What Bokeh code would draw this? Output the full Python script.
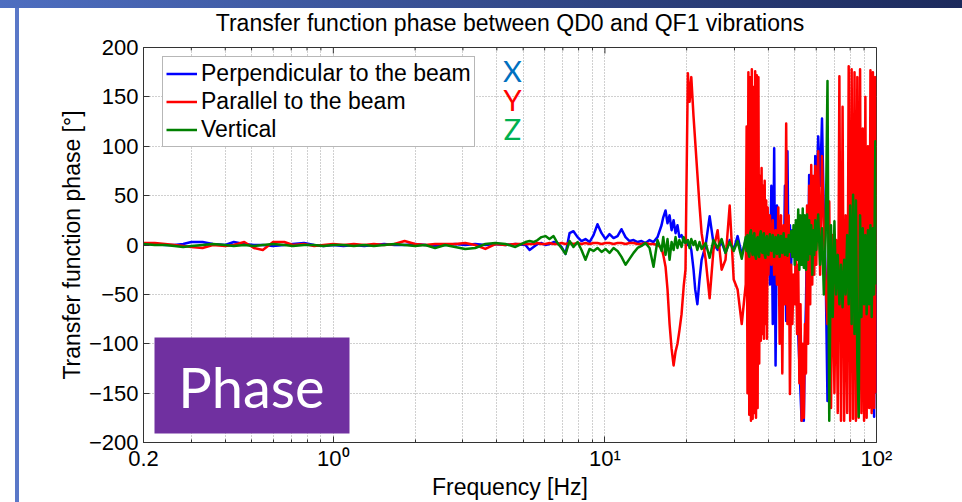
from bokeh.plotting import figure
from bokeh.models import Range1d, FixedTicker, Label, BoxAnnotation
from bokeh.embed import file_html
from bokeh.resources import INLINE
import math

# ---------------- data ----------------
freq = [
    0.2, 0.22, 0.24, 0.26, 0.28, 0.3, 0.33, 0.36, 0.4, 0.43,
    0.47, 0.51, 0.55, 0.6, 0.66, 0.71, 0.78, 0.85, 0.92, 1.0,
    1.09, 1.19, 1.3, 1.41, 1.54, 1.68, 1.83, 2.0, 2.18, 2.37,
    2.58, 2.81, 3.06, 3.33, 3.63, 3.95, 4.3, 4.68, 5.1,
    5.28, 5.46, 5.65, 5.84, 6.04, 6.25, 6.47, 6.69, 6.92, 7.16,
    7.41, 7.66, 7.93, 8.2, 8.48, 8.78, 9.08, 9.39, 9.72, 10.05,
    10.4, 10.76, 11.13, 11.51, 11.91, 12.32, 12.75, 13.19, 13.64, 14.11,
    14.6, 15.1, 15.62, 16.16, 16.4, 16.72, 17.0, 17.3, 17.6, 17.9,
    18.2, 18.5, 18.8, 19.15, 19.5, 19.8, 20.2, 20.5, 20.8, 21.2,
    21.5, 21.9, 22.3, 22.7, 23.5, 24.3, 25.1, 26.0, 26.9, 27.8,
    28.8, 29.8, 30.8, 31.9, 33.0,
    33.25, 33.5, 33.75, 34, 34.25, 34.5, 34.75, 35, 35.25, 35.5,
    35.75, 36, 36.25, 36.5, 36.75, 37, 37.25, 37.5, 37.75, 38,
    38.25, 38.5, 38.75, 39, 39.25, 39.5, 39.75, 40,
    40.5, 41, 41.5, 42, 42.5, 43,
    43.5, 44, 44.5, 45, 45.5, 46, 46.5, 47, 47.5, 48,
    48.5, 49, 49.5, 50, 50.5, 51, 51.5, 52, 52.5, 53,
    53.5, 54, 54.5, 55, 55.5, 56, 56.5, 57, 57.5, 58,
    58.5, 59, 59.5, 60,
    61, 62, 63, 64, 65, 66, 67, 68, 69, 70,
    71, 72, 73, 74, 75, 76, 77, 78, 79, 80,
    81, 82, 83, 84, 85, 86, 87, 88, 89, 90,
    91, 92, 93, 94, 95, 96, 97, 98, 99, 100,
]

perpendicular = [
    1, 1, 0, 0, 1, 3, 3, 1, 0, 3,
    1, 0, 0, -1, 0, 1, 2, 0, -1, 0,
    -1, 0, -1, 0, 1, 0, 0, 1, 0, -1,
    0, 1, 0, 1, 0, 1, 0, 1, 0,
    -5, -2, 1, 2, 0, 1, 3, 2, -2, -9,
    12, 14, 8, 4, 6, 3, 10, 21, 12, 6,
    11, 7, 9, 16, 8, 4, 5, 3, 4, 2,
    5, 3, 8, 20, 28, 35, 22, 30, 15, 25,
    12, 20, 8, 10, 4, 2, 0, 2, -5, -25,
    -45, -60, -35, -15, 0, 29, 2, -5, 3, -8,
    5, -5, 9, -10, 5,
    -5, -10, 4, 5, -12, -8, 8, 6, -6, -12,
    3, 4, -10, -6, 6, 3, -14, -10, 5, 2,
    -18, -15, 8, 10, -12, -20, 15, 25,
    -40, 60, -80, 98, -122, 40,
    -30, 0, -25, 10, -50, 60, -77, 95, -40, 20,
    -20, 15, -10, 5, -30, -60, -90, -120, -150, -178,
    -140, -178, -100, -60, 20, -40, 71, -20, 50, -30,
    60, 10, 90, 40,
    110, 60, 128, 30, -30, -158, -67, -40, -63, -30,
    -60, -45, -40, -55, -50, -36, -60, -36, -20, -50,
    10, -70, 20, -40, 30, -80, 0, -60, 40, -50,
    60, 73, -60, 40, -120, 60, -100, -174, 20, -150,
]

parallel = [
    2, 2, 1, 0, -1, -2, -3, 0, -1, 0,
    3, -3, -5, 3, 3, 0, 1, -1, 0, 1,
    0, 1, 0, 1, 0, 1, 4, 1, 0, 1,
    1, 1, 2, 0, -4, 1, 0, 1, 1,
    1, 1, 2, 1, 1, 2, 1, 1, 2, 1,
    2, 1, 2, 1, 2, 1, 2, 2, 1, 2,
    2, 1, 2, 2, 1, 2, 2, 1, 1, 2,
    1, 1, 0, -3, -10, -22, -45, -80, -105, -122,
    -108, -100, -87, -70, -42, -25, 174, 145, 170, 130,
    105, 72, 40, 12, -15, -54, -5, 15, -25, -15,
    40, -35, -45, -80, -40,
    120, -150, 175, -172, 170, -178, 178, -176, 160, -170,
    176, -175, 172, -165, 170, -120, 70, -97, 78, -90,
    60, -95, 65, -80, 45, -95, 38, -30,
    30, -20, 25, -30, 15, -40,
    38, -100, 30, -130, 20, -60, 123, -80, 30, -151,
    -20, -80, -30, -60, 4, -90, -20, -140, -60, -178,
    -100, -175, -80, -130, 40, -100, 60, -60, 81, -40,
    70, -30, 80, -20,
    95, -30, 90, 17, -40, -80, 44, -165, 10, -150,
    5, -170, 171, -178, 140, -178, 30, -170, 181, -178,
    178, -176, 175, -178, 170, -175, 178, -170, 118, -178,
    150, -175, 100, -165, 177, -170, 175, -165, 170, -150,
]

vertical = [
    1, 0, 0, -1, -2, -1, 0, 1, 0, -1,
    0, -1, 0, 1, 0, -1, 0, 0, -1, 0,
    0, -1, 0, -1, 0, 1, 0, -1, 0, -3,
    0, -2, -4, -3, 1, 2, 1, -2, 3,
    4, 3, 5, 8, 9, 6, 9, 2, -3, -9,
    4, -2, 3, -5, -15, -4, -6, -3, -7, -4,
    -8, -3, -6, -12, -20, -14, -8, -3, -1, 2,
    -3, -22, 5, -6, 8, -10, 6, -15, 3, -5,
    8, -3, 5, -2, 8, 2, 5, -3, 6, 0,
    4, -5, 3, -4, 2, -13, 5, -3, 6, -8,
    3, -6, 4, -14, 8,
    -6, 10, -8, -12, 12, 15, -6, -10, 9, 12,
    -10, -14, 6, 8, -9, -12, 10, 14, -6, -8,
    9, 12, -10, -13, 7, 9, -8, -10,
    11, -6, 10, -12, 8, -9,
    10, -12, 9, -8, 12, -10, 6, -11, 10, -7,
    14, -12, 20, -20, 25, -15, 36, -25, 30, -20,
    37, -23, 30, -25, 31, -15, 25, -9, 20, -30,
    15, -10, 25, -5,
    31, -20, 17, -50, 10, 166, -178, 20, -73, 24,
    -50, -10, -60, -20, -63, -15, -50, 10, -60, 40,
    -80, 51, -90, 45, -120, -174, 30, -73, 17, -60,
    10, -70, 15, -60, 20, -73, 17, -50, 105, -40,
]

series_names = ["Perpendicular to the beam", "Parallel to the beam", "Vertical"]
series_colors = ["#0000FF", "#FF0000", "#008000"]

x_ticks = [0.2, 1, 10, 100]
x_tick_labels = ["0.2", "10\u2070", "10\u00b9", "10\u00b2"]
x_minor_ticks = [0.3, 0.4, 0.5, 0.6, 0.7, 0.8, 0.9,
                 2, 3, 4, 5, 6, 7, 8, 9,
                 20, 30, 40, 50, 60, 70, 80, 90]
y_ticks = [-200, -150, -100, -50, 0, 50, 100, 150, 200]

title_text = "Transfer function phase between QD0 and QF1 vibrations"
x_label = "Frequency [Hz]"
y_label = "Transfer function phase [\u00b0]"
axis_letters = ["X", "Y", "Z"]
axis_letter_colors = ["#0070C0", "#FF0000", "#00B050"]

# ---------------- layout constants ----------------
W, H = 962, 502
FL, FR, FT, FB = 143, 876, 46, 442   # frame edges in canvas px
FONT = "Liberation Sans"
AX = "#333333"
X0, X1, Y0, Y1 = 0.2, 100, -200, 200

p = figure(width=W, height=H, x_axis_type="log",
           x_range=Range1d(X0, X1), y_range=Range1d(Y0, Y1),
           output_backend="svg", toolbar_location=None,
           min_border_left=FL, min_border_right=W - FR,
           min_border_top=FT, min_border_bottom=H - FB,
           background_fill_color="white", border_fill_color=None,
           outline_line_color=AX, outline_line_width=1)

# slide decorations behind the canvas: top gradient bar and left rule
p.styles = {
    "background": ("linear-gradient(to right, #4e6ec0, #1c2a5c) 0px 0px / 100% 8px no-repeat, "
                   "linear-gradient(#5a78c8, #5a78c8) 15px 8px / 4px 494px no-repeat, #ffffff"),
}

p.title.text = title_text
p.title.align = "center"
p.title.vertical_align = "top"
p.title.text_font = FONT
p.title.text_font_size = "23px"
p.title.text_font_style = "normal"
p.title.text_color = "black"
p.title.standoff = 19

xt = FixedTicker(ticks=x_ticks, minor_ticks=x_minor_ticks)
yt = FixedTicker(ticks=y_ticks, minor_ticks=[])


def style_axis(ax):
    ax.axis_line_color = AX
    ax.major_tick_in = 6
    ax.major_tick_out = 0
    ax.minor_tick_in = 3
    ax.minor_tick_out = 0
    ax.major_tick_line_color = AX
    ax.minor_tick_line_color = AX
    ax.major_label_text_font = FONT
    ax.major_label_text_font_size = "22px"
    ax.major_label_text_color = "black"
    ax.axis_label_text_font = FONT
    ax.axis_label_text_font_size = "23px"
    ax.axis_label_text_font_style = "normal"
    ax.axis_label_text_color = "black"


xa = p.below[0]
ya = p.left[0]
xa.ticker = xt
ya.ticker = yt
style_axis(xa)
style_axis(ya)
xa.major_label_overrides = dict(zip(x_ticks, x_tick_labels))
xa.major_label_standoff = 3
xa.axis_label = x_label
xa.axis_label_standoff = 0
ya.axis_label = y_label
ya.major_label_standoff = 5
ya.axis_label_standoff = 1

for g in (p.xgrid[0], p.ygrid[0]):
    g.grid_line_color = "#a0a0a0"
    g.grid_line_dash = "1 2"
    g.grid_line_width = 1
p.xgrid[0].ticker = xt
p.xgrid[0].minor_grid_line_color = "#a0a0a0"
p.xgrid[0].minor_grid_line_dash = "1 2"

# inner ticks on the top and right edges (matlab box), from the tick lists
px_y = (Y1 - Y0) / (FB - FT)                      # data units per pixel (y)
px_xf = 10 ** (math.log10(X1 / X0) / (FR - FL))   # log factor per pixel (x)
p.segment(x0=x_ticks, y0=[Y1] * len(x_ticks), x1=x_ticks,
          y1=[Y1 - 6 * px_y] * len(x_ticks), line_color=AX, line_width=1)
p.segment(x0=x_minor_ticks, y0=[Y1] * len(x_minor_ticks), x1=x_minor_ticks,
          y1=[Y1 - 3 * px_y] * len(x_minor_ticks), line_color=AX, line_width=1)
p.segment(x0=[X1] * len(y_ticks), y0=y_ticks, x1=[X1 / px_xf ** 6] * len(y_ticks),
          y1=y_ticks, line_color=AX, line_width=1)

for vals, name, col in zip([perpendicular, parallel, vertical], series_names, series_colors):
    p.line(freq, vals, line_color=col, line_width=2.5, line_join="round",
           legend_label=name)

lg = p.legend[0]
lg.location = (19, 295)
lg.label_text_font = FONT
lg.label_text_font_size = "23px"
lg.label_text_color = "black"
lg.glyph_width = 31
lg.glyph_height = 27
lg.label_height = 27
lg.label_standoff = 4
lg.spacing = 1
lg.padding = 3
lg.margin = 0
lg.border_line_color = "#707070"
lg.border_line_width = 1.5
lg.background_fill_color = "white"
lg.background_fill_alpha = 1


def sx(cx):
    return cx - FL


def sy(cy):
    return FB - cy


# "Phase" tag
p.add_layout(BoxAnnotation(left=sx(154), right=sx(349), top=sy(337), bottom=sy(433),
                           left_units="screen", right_units="screen",
                           top_units="screen", bottom_units="screen",
                           fill_color="#7030A0", fill_alpha=1, line_color=None))
p.add_layout(Label(x=sx(251), y=sy(386), x_units="screen", y_units="screen",
                   text="Phase", text_font="Lato", text_font_size="56px",
                   text_color="white", text_align="center", text_baseline="middle"))

# X / Y / Z axis letters
for i, (letter, col) in enumerate(zip(axis_letters, axis_letter_colors)):
    p.add_layout(Label(x=sx(512), y=sy(70 + 29 * i), x_units="screen", y_units="screen",
                       text=letter, text_font="Lato", text_font_size="29px",
                       text_color=col, text_align="center", text_baseline="middle"))

open("out.html", "w").write(file_html(p, INLINE))
